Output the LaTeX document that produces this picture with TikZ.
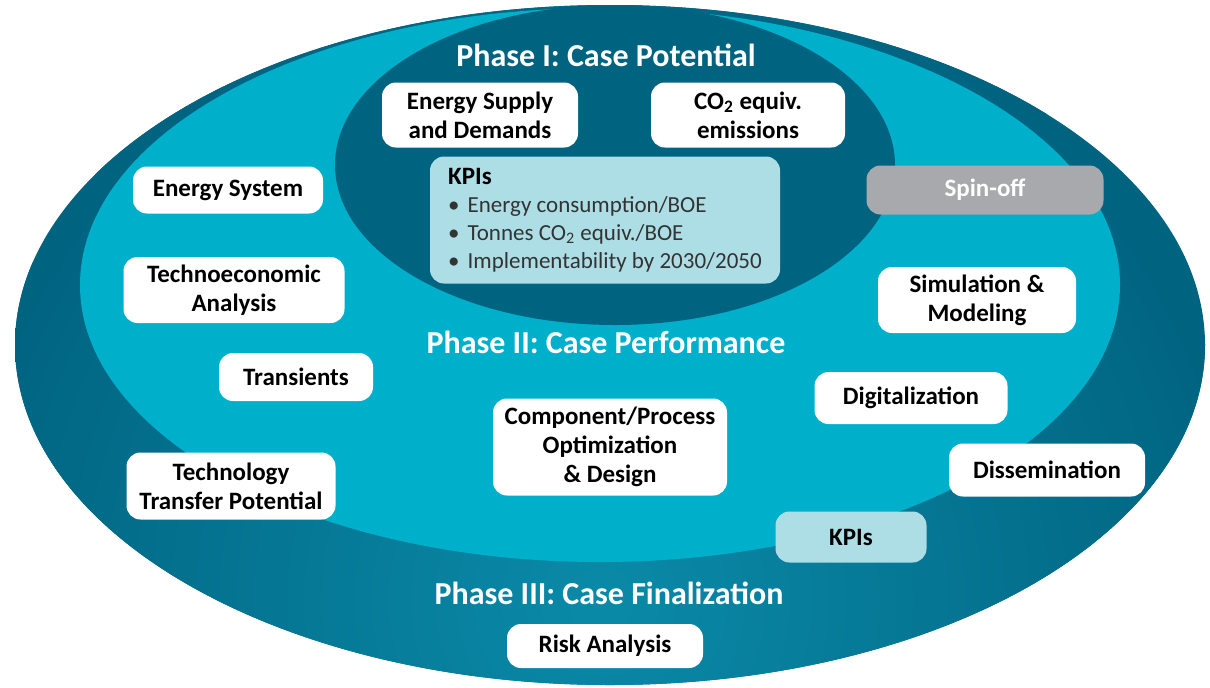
\documentclass[tikz,border=0pt]{standalone}
\usepackage{fontspec}
\setmainfont{Carlito}
\usepackage{tikz}

\definecolor{tealdark}{HTML}{006380}
\definecolor{tealmid}{HTML}{0A8AA8}
\definecolor{cyanring}{HTML}{00B0CB}
\definecolor{kpiblue}{HTML}{ADDEE5}
\definecolor{spingrey}{HTML}{A7A9AC}
\definecolor{listgrey}{HTML}{333333}

\tikzset{
  pill/.style={fill=white, rounded corners=7pt, align=center, inner sep=0pt,
    font=\fontsize{12.5}{14.5}\selectfont\bfseries},
  wh/.style 2 args={minimum width=#1*0.5pt, minimum height=#2*0.5pt},
  phase/.style={text=white, font=\fontsize{16}{19}\selectfont\bfseries},
}

\begin{document}
\begin{tikzpicture}[x=0.5pt,y=-0.5pt]
		\useasboundingbox (0,0) rectangle (1210,687);
		%
		% Phase III ring
		\fill[tealdark] (610,345) ellipse [x radius=297.5pt, y radius=170pt];
		\begin{scope}
			\clip (610,345) ellipse [x radius=297.5pt, y radius=170pt];
			\shade[inner color=tealmid, outer color=tealdark] (600,600) circle [radius=330pt];
		\end{scope}
		% Phase II ring
		\fill[cyanring] (600,285) ellipse [x radius=260pt, y radius=138.5pt];
		% Phase I ring
		\fill[tealdark] (615,165) ellipse [x radius=140pt, y radius=80pt];
		%
		% phase titles
		\node[phase] (ph1) at (606,55) {Phase I: Case Potential};
		\node[phase] (ph2) at (606,342) {Phase II: Case Performance};
		\node[phase] (ph3) at (609,593) {Phase III: Case Finalization};
		%
		% phase I
		\node[pill, wh={196}{65}] (supply) at (480,115) {Energy Supply\\and Demands};
		\node[pill, wh={194}{65}] (emis) at (748,115) {CO\textsubscript{2} equiv.\\emissions};
		\node[pill, fill=kpiblue, wh={350}{127}, align=left,
			font=\fontsize{11.5}{14}\selectfont, text=listgrey] (kpitop) at (605,220)
			{\textcolor{black}{\bfseries\fontsize{12.5}{14}\selectfont KPIs}\\
			\textbullet\hspace{4pt}Energy consumption/BOE\\
			\textbullet\hspace{4pt}Tonnes CO\textsubscript{2} equiv./BOE\\
			\textbullet\hspace{4pt}Implementability by 2030/2050};
		%
		% phase II, left side
		\node[pill, wh={190}{47}] (ensys) at (228,190) {Energy System};
		\node[pill, wh={221}{66}] (techeco) at (234,290) {Technoeconomic\\Analysis};
		\node[pill, wh={154}{48}] (trans) at (296,377) {Transients};
		\node[pill, wh={209}{67}] (transfer) at (231,486) {Technology\\Transfer Potential};
		% phase II, middle and right side
		\node[pill, wh={234}{97}] (compopt) at (610,447) {Component/Process\\Optimization\\\& Design};
		\node[pill, fill=spingrey, text=white, wh={237}{49}] (spin) at (985,190) {Spin-off};
		\node[pill, wh={198}{66}] (simmod) at (977,300) {Simulation \&\\Modeling};
		\node[pill, wh={193}{52}] (digi) at (911,398) {Digitalization};
		\node[pill, wh={196}{53}] (dissem) at (1047,470) {Dissemination};
		\node[pill, fill=kpiblue, wh={151}{51}] (kpibot) at (851,537) {KPIs};
		%
		% phase III
		\node[pill, wh={196}{44}] (risk) at (605,646) {Risk Analysis};
	\end{tikzpicture}
\end{document}
